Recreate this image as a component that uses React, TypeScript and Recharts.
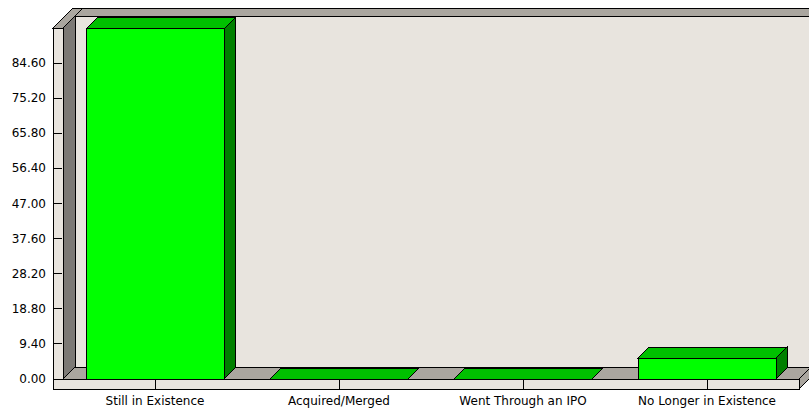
import React from 'react';
import { BarChart, Bar, XAxis, YAxis, Customized } from 'recharts';

// outcome categories and share of companies (%)
const categories = ['Still in Existence', 'Acquired/Merged', 'Went Through an IPO', 'No Longer in Existence'];
const shares = [93.8, 0, 0, 5.6];
const yTicks = [0, 9.4, 18.8, 28.2, 37.6, 47, 56.4, 65.8, 75.2, 84.6];
const yMax = 94;

const data = categories.map((name, i) => ({ name, value: shares[i] }));

const W = 809;
const H = 411;
// plot rectangle (front plane), matches the margins below
const PLOT = { left: 63, top: 28, right: 799, bottom: 379 };
const DEPTH = 12;      // wall / floor depth offset
const BAR_DEPTH = 11;  // bar depth offset
const WALL = 10;       // thickness of the left wall and floor slab

const LIGHT = '#e8e4de';
const GREY = '#aaa69f';
const DARK = '#7c7975';
const FONT = '"DejaVu Sans", Verdana, sans-serif';

const Frame = () => {
  const { left, top, right, bottom } = PLOT;
  const bx = left + DEPTH;
  const by = bottom - DEPTH;
  const ty = top - DEPTH;
  const end = W + 10;
  return (
    <g stroke="#000" strokeWidth={1} shapeRendering="crispEdges">
      {/* back wall + its top */}
      <rect x={bx} y={ty} width={end - bx} height={by - ty} fill={LIGHT} />
      <polygon points={`${bx},${ty} ${bx + 8},${ty - 8} ${end},${ty - 8} ${end},${ty}`} fill={GREY} />
      {/* floor top, right side, front */}
      <polygon points={`${left},${bottom} ${bx},${by} ${right + DEPTH},${by} ${right},${bottom}`} fill={GREY} />
      <polygon
        points={`${right},${bottom} ${right + DEPTH},${by} ${right + DEPTH},${by + WALL} ${right},${bottom + WALL}`}
        fill={GREY}
      />
      <rect x={left - WALL} y={bottom} width={right - left + WALL} height={WALL} fill={LIGHT} />
      {/* left wall: inner face, top, front */}
      <polygon points={`${left},${top} ${bx},${ty} ${bx},${by} ${left},${bottom}`} fill={DARK} />
      <polygon
        points={`${left - WALL},${top} ${left},${top} ${left + 20},${top - 20} ${left - WALL + 20},${top - 20}`}
        fill={GREY}
      />
      <rect x={left - WALL} y={top} width={WALL} height={bottom - top} fill={LIGHT} />
    </g>
  );
};

const Bar3D = (props: any) => {
  const { x, y, width, height } = props;
  const d = BAR_DEPTH;
  const h = Math.max(0, height);
  return (
    <g stroke="#000" strokeWidth={1} shapeRendering="crispEdges">
      {h > 0 && (
        <polygon
          points={`${x + width},${y} ${x + width + d},${y - d} ${x + width + d},${y + h - d} ${x + width},${y + h}`}
          fill="#008000"
        />
      )}
      <polygon points={`${x},${y} ${x + d},${y - d} ${x + width + d},${y - d} ${x + width},${y}`} fill="#00c000" />
      {h > 0 && <rect x={x} y={y} width={width} height={h} fill="#00ff00" />}
    </g>
  );
};

const YTick = ({ y, payload }: any) => (
  <g>
    <line x1={PLOT.left - WALL} x2={PLOT.left - 1} y1={y} y2={y} stroke="#000" shapeRendering="crispEdges" />
    <text x={PLOT.left - WALL - 7} y={y} dy={4} textAnchor="end" fontSize={12} fontFamily={FONT} fill="#000">
      {Number(payload.value).toFixed(2)}
    </text>
  </g>
);

const XTick = ({ x, payload }: any) => (
  <g>
    <line x1={x} x2={x} y1={PLOT.bottom + 1} y2={PLOT.bottom + WALL} stroke="#000" shapeRendering="crispEdges" />
    <text x={x} y={PLOT.bottom + 26} textAnchor="middle" fontSize={12} fontFamily={FONT} fill="#000">
      {payload.value}
    </text>
  </g>
);

export default function App() {
  return (
    <div style={{ position: 'absolute', left: 0, top: 0, width: W, height: H, background: '#fff' }}>
      <BarChart
        width={W}
        height={H}
        data={data}
        margin={{ top: PLOT.top, right: W - PLOT.right, left: 0, bottom: 0 }}
        barCategoryGap="12.5%"
      >
        <Customized component={<Frame />} />
        <XAxis
          dataKey="name"
          height={H - PLOT.bottom}
          axisLine={false}
          tickLine={false}
          tickSize={0}
          tick={<XTick />}
          interval={0}
        />
        <YAxis
          type="number"
          domain={[0, yMax]}
          ticks={yTicks}
          width={PLOT.left}
          axisLine={false}
          tickLine={false}
          tickSize={0}
          tick={<YTick />}
          interval={0}
        />
        <Bar dataKey="value" shape={<Bar3D />} isAnimationActive={false} />
      </BarChart>
    </div>
  );
}
